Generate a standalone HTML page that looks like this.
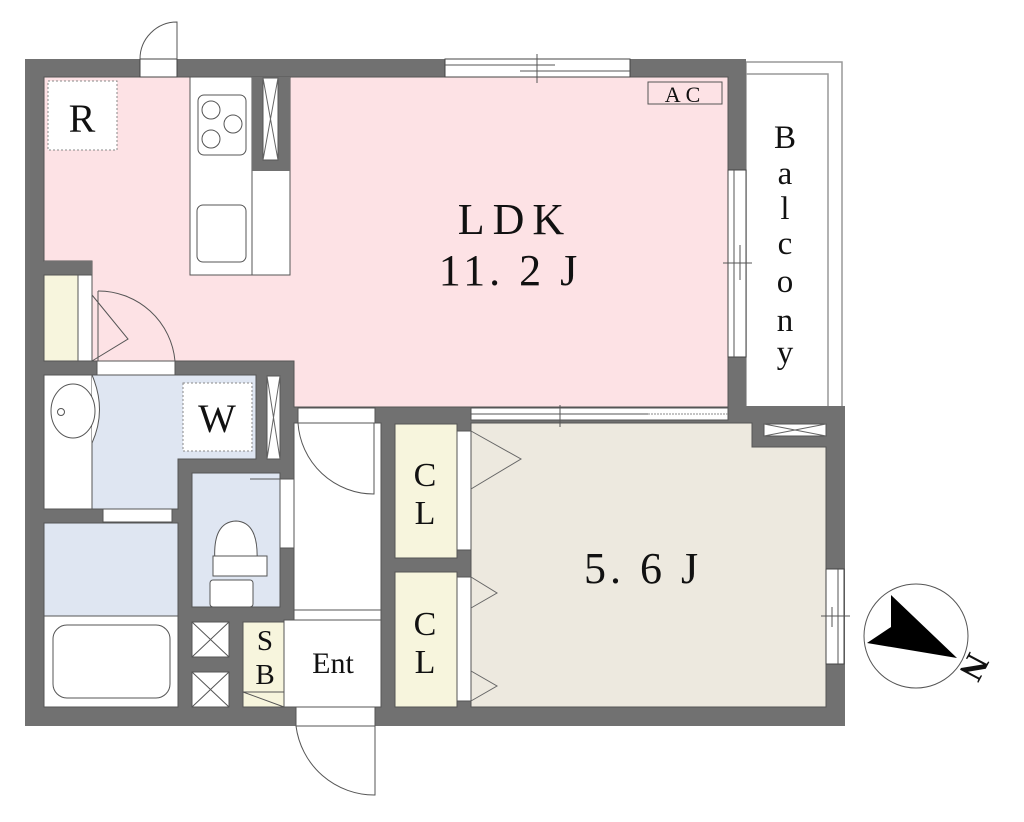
<!DOCTYPE html>
<html><head><meta charset="utf-8"><style>
html,body{margin:0;padding:0;background:#fff;}
svg{display:block;}
text{font-family:"Liberation Serif",serif;fill:#111;}
</style></head><body>
<svg width="1024" height="822" viewBox="0 0 1024 822" xmlns="http://www.w3.org/2000/svg">
<rect x="746" y="62" width="96" height="346" fill="#fff" stroke="#999" stroke-width="1.5"/>
<polyline points="746,74 828,74 828,408" fill="none" stroke="#999" stroke-width="1.5"/>
<rect x="25" y="59" width="721" height="349" fill="#717171"/>
<rect x="25" y="406" width="820" height="320" fill="#717171"/>
<polygon points="44,77 728,77 728,407 294,407 294,361 92,361 92,261 44,261" fill="#fde2e5" stroke="#555" stroke-width="1"/>
<rect x="44" y="261" width="48" height="14" fill="#717171"/>
<rect x="44" y="275" width="34" height="86" fill="#f7f5dd" stroke="#555"/>
<rect x="78" y="275" width="14" height="86" fill="#fff" stroke="#555"/>
<polyline points="92,295 128,339 92,361" fill="none" stroke="#555"/>
<rect x="97" y="361" width="78" height="14" fill="#fff" stroke="#555"/>
<path d="M98,291 A77,77 0 0 1 175,361" fill="none" stroke="#555"/>
<line x1="98" y1="291" x2="98" y2="361" stroke="#555"/>
<rect x="48" y="81" width="69" height="69" fill="#fff" stroke="#888" stroke-dasharray="2,2"/>
<text x="82" y="132" font-size="40" text-anchor="middle">R</text>
<rect x="190" y="77" width="100" height="198" fill="#fff" stroke="#555"/>
<line x1="252" y1="77" x2="252" y2="275" stroke="#555"/>
<rect x="252" y="77" width="38" height="94" fill="#717171"/>
<rect x="263" y="78" width="15" height="82" fill="#fff" stroke="#555"/>
<path d="M263,78 L278,160 M278,78 L263,160" stroke="#666" fill="none"/>
<rect x="198" y="95" width="48" height="60" rx="6" fill="#fff" stroke="#555"/>
<circle cx="211" cy="110" r="9" fill="none" stroke="#555"/><circle cx="233" cy="124" r="9" fill="none" stroke="#555"/><circle cx="211" cy="139" r="9" fill="none" stroke="#555"/>
<rect x="197" y="205" width="49" height="57" rx="6" fill="#fff" stroke="#555"/>
<rect x="140" y="59" width="37" height="18" fill="#fff" stroke="#444"/>
<path d="M140,59 A37,37 0 0 1 177,22 L177,59" fill="none" stroke="#555"/>
<rect x="445" y="59" width="185" height="18" fill="#fff" stroke="#444"/>
<line x1="445" y1="65" x2="555" y2="65" stroke="#555"/><line x1="520" y1="71" x2="630" y2="71" stroke="#555"/>
<line x1="537" y1="54" x2="537" y2="83" stroke="#555"/>
<rect x="648" y="82" width="74" height="22" fill="#fde2e5" stroke="#555"/>
<text x="685" y="102" font-size="22" text-anchor="middle" letter-spacing="5">AC</text>
<rect x="728" y="170" width="18" height="187" fill="#fff" stroke="#444"/>
<line x1="734" y1="170" x2="734" y2="357" stroke="#555"/><line x1="740" y1="245" x2="740" y2="280" stroke="#555"/>
<line x1="723" y1="263" x2="752" y2="263" stroke="#555"/>
<text x="515" y="234" font-size="44" text-anchor="middle" letter-spacing="8">LDK</text>
<text x="510" y="285" font-size="44" text-anchor="middle" letter-spacing="4">11. 2 J</text>
<g font-size="33" text-anchor="middle">
<text x="785" y="148">B</text><text x="785" y="184">a</text><text x="785" y="219">l</text><text x="785" y="254">c</text><text x="785" y="292">o</text><text x="785" y="331">n</text><text x="785" y="363">y</text>
</g>
<polygon points="92,375 256,375 256,459 178,459 178,509 92,509" fill="#dfe6f2" stroke="#555"/>
<rect x="44" y="375" width="48" height="134" fill="#fff" stroke="#555"/>
<path d="M92,375 Q107,410 92,443" fill="#fff" stroke="#555"/>
<ellipse cx="73" cy="411" rx="22" ry="27" fill="#fff" stroke="#555"/>
<circle cx="61" cy="412" r="3.5" fill="none" stroke="#555"/>
<rect x="183" y="383" width="69" height="68" fill="#fff" stroke="#888" stroke-dasharray="2,2"/>
<text x="217" y="432" font-size="40" text-anchor="middle">W</text>
<rect x="267" y="376" width="13" height="83" fill="#fff" stroke="#555"/>
<path d="M267,376 L280,459 M280,376 L267,459" stroke="#666"/>
<rect x="103" y="509" width="69" height="13" fill="#fff" stroke="#555"/>
<polyline points="138,523 155,552 172,523" fill="none" stroke="#555"/>
<rect x="44" y="523" width="134" height="93" fill="#dfe6f2" stroke="#555"/>
<rect x="44" y="616" width="134" height="91" fill="#fff" stroke="#555"/>
<rect x="53" y="625" width="117" height="73" rx="14" fill="#fff" stroke="#555"/>
<rect x="192" y="473" width="88" height="134" fill="#dfe6f2" stroke="#555"/>
<rect x="280" y="479" width="14" height="69" fill="#fff" stroke="#555"/>
<path d="M250,479 L323,479 Q318,530 300,548" fill="none" stroke="#555"/>
<path d="M215,562 Q212,522 236,521 Q259,522 257,562 Z" fill="#fff" stroke="#555"/>
<rect x="213" y="556" width="54" height="20" fill="#fff" stroke="#555"/>
<rect x="210" y="580" width="43" height="27" rx="3" fill="#fff" stroke="#555"/>
<rect x="192" y="622" width="37" height="35" fill="#fff" stroke="#555"/><path d="M192,622 L229,657 M229,622 L192,657" stroke="#555"/>
<rect x="192" y="672" width="37" height="35" fill="#fff" stroke="#555"/><path d="M192,672 L229,707 M229,672 L192,707" stroke="#555"/>
<rect x="243" y="622" width="41" height="85" fill="#f7f5dd" stroke="#555"/>
<line x1="243" y1="692" x2="284" y2="692" stroke="#555"/><line x1="243" y1="692" x2="284" y2="707" stroke="#555"/>
<text x="265" y="650" font-size="29" text-anchor="middle">S</text>
<text x="265" y="684" font-size="29" text-anchor="middle">B</text>
<rect x="294" y="423" width="87" height="197" fill="#fff" stroke="#555"/>
<line x1="294" y1="610" x2="381" y2="610" stroke="#555"/>
<rect x="284" y="620" width="97" height="87" fill="#fff" stroke="#555"/>
<text x="333" y="673" font-size="30" text-anchor="middle">Ent</text>
<rect x="298" y="408" width="77" height="15" fill="#fff" stroke="#555"/>
<path d="M298,423 A76,76 0 0 0 374,494 L374,423" fill="none" stroke="#555"/>
<rect x="296" y="707" width="79" height="19" fill="#fff" stroke="#555"/>
<path d="M296,726 A79,79 0 0 0 375,795 L375,726" fill="none" stroke="#555"/>
<rect x="395" y="424" width="62" height="134" fill="#f7f5dd" stroke="#555"/>
<rect x="395" y="572" width="62" height="135" fill="#f7f5dd" stroke="#555"/>
<rect x="457" y="431" width="14" height="119" fill="#fff" stroke="#555"/>
<rect x="457" y="577" width="14" height="124" fill="#fff" stroke="#555"/>
<text x="425" y="486" font-size="34" text-anchor="middle">C</text><text x="425" y="524" font-size="34" text-anchor="middle">L</text>
<text x="425" y="635" font-size="34" text-anchor="middle">C</text><text x="425" y="673" font-size="34" text-anchor="middle">L</text>
<polygon points="471,423 752,423 752,447 826,447 826,707 471,707" fill="#ede9df" stroke="#555"/>
<polyline points="471,431 521,459 471,489" fill="none" stroke="#666"/>
<polyline points="471,577 497,593 471,608" fill="none" stroke="#666"/>
<polyline points="471,671 497,686 471,701" fill="none" stroke="#666"/>
<rect x="764" y="424" width="62" height="12" fill="#fff" stroke="#555"/>
<path d="M764,424 L826,436 M826,424 L764,436" stroke="#666"/>
<text x="643" y="583" font-size="44" text-anchor="middle" letter-spacing="4">5. 6 J</text>
<rect x="471" y="408" width="257" height="12" fill="#fff" stroke="#555"/>
<line x1="471" y1="414" x2="648" y2="414" stroke="#555"/>
<line x1="648" y1="414" x2="728" y2="414" stroke="#888" stroke-dasharray="2,1"/>
<line x1="560" y1="405" x2="560" y2="427" stroke="#555"/>
<rect x="826" y="569" width="18" height="95" fill="#fff" stroke="#444"/>
<line x1="838" y1="569" x2="838" y2="664" stroke="#555"/><line x1="832" y1="607" x2="832" y2="627" stroke="#555"/>
<line x1="821" y1="616" x2="850" y2="616" stroke="#555"/>
<circle cx="916" cy="636" r="52" fill="#fff" stroke="#555"/>
<polygon points="891,595 957,658 867,643 891,627" fill="#000"/>
<g transform="translate(974,667) rotate(118)"><text x="0" y="11" font-size="34" font-weight="bold" text-anchor="middle">N</text></g>
</svg>
</body></html>
